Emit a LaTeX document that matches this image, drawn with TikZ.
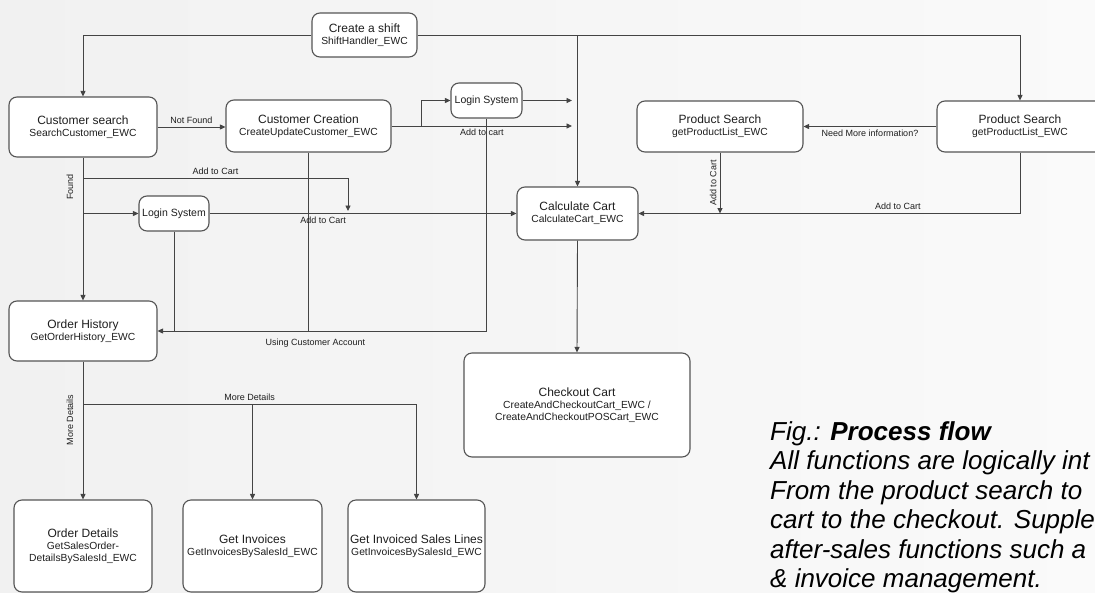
\documentclass[tikz,border=0pt]{standalone}
\usepackage{fontspec}
\setmainfont{Liberation Sans}
\usetikzlibrary{arrows.meta}

\definecolor{linegray}{HTML}{444444}
\definecolor{boxgray}{HTML}{555555}
\definecolor{txt}{HTML}{1E1E1E}

\newcommand{\titlef}{\fontsize{12}{14}\selectfont}
\newcommand{\subf}{\fontsize{10.3}{13}\selectfont}
\newcommand{\fname}[2]{{\titlef #1}\\{\subf #2}}

\tikzset{
  fbox/.style={draw=boxgray, line width=1.1pt, rounded corners=8pt, fill=white,
    align=center, text=txt, inner sep=0pt},
  lbl/.style={font=\fontsize{9}{10}\selectfont, text=txt, inner sep=3pt},
  flow/.style={draw=linegray, line width=0.9pt},
  >={Triangle[length=5.5pt,width=5pt]}
}

\begin{document}
\begin{tikzpicture}[x=1pt,y=-1pt]
% background
\useasboundingbox (0,0) rectangle (1095,592);
\clip (0,0) rectangle (1095,592);
\shade[left color=gray!11, right color=gray!4] (0,0) rectangle (1095,592);
% boxes
\node[fbox, minimum width=105, minimum height=44] (shift) at (364.5,35) {\fname{Create a shift}{ShiftHandler\_EWC}};
\node[fbox, minimum width=148, minimum height=60] (custsearch) at (83,127) {\fname{Customer search}{SearchCustomer\_EWC}};
\node[fbox, minimum width=165, minimum height=52] (custcreate) at (308.5,126) {\fname{Customer Creation}{CreateUpdateCustomer\_EWC}};
\node[fbox, minimum width=71, minimum height=35, font=\fontsize{10.5}{12}\selectfont] (login1) at (486.5,100.5) {Login System};
\node[fbox, minimum width=166, minimum height=51] (prodsearch1) at (720,126.5) {\fname{Product Search}{getProductList\_EWC}};
\node[fbox, minimum width=166, minimum height=51] (prodsearch2) at (1020,126.5) {\fname{Product Search}{getProductList\_EWC}};
\node[fbox, minimum width=121, minimum height=53] (calc) at (577.5,213.5) {\fname{Calculate Cart}{CalculateCart\_EWC}};
\node[fbox, minimum width=70, minimum height=35, font=\fontsize{10.5}{12}\selectfont] (login2) at (174,213.5) {Login System};
\node[fbox, minimum width=148, minimum height=60] (orderhist) at (83,331) {\fname{Order History}{GetOrderHistory\_EWC}};
\node[fbox, minimum width=226, minimum height=104] (checkout) at (577,405) {{\titlef Checkout Cart}\\{\subf CreateAndCheckoutCart\_EWC /}\\{\subf CreateAndCheckoutPOSCart\_EWC}};
\node[fbox, minimum width=138, minimum height=92] (orderdet) at (83,546) {{\titlef Order Details}\\{\subf GetSalesOrder-}\\{\subf DetailsBySalesId\_EWC}};
\node[fbox, minimum width=139, minimum height=92] (invoices) at (252.5,546) {\fname{Get Invoices}{GetInvoicesBySalesId\_EWC}};
\node[fbox, minimum width=137, minimum height=92] (invlines) at (416.5,546) {\fname{Get Invoiced Sales Lines}{GetInvoicesBySalesId\_EWC}};
% branch points
\coordinate (split1) at (421,126);
\coordinate (end1) at (572,100.5);
\coordinate (end2) at (572,126);
\coordinate (found1) at (83,178);
\coordinate (found2) at (83,213.5);
\coordinate (end3) at (348,211);
\coordinate (det) at (83,404);
% connectors
\draw[flow,->] (shift.west) -| (custsearch.north);
\draw[flow,->] (shift.east) -| (prodsearch2.north);
\draw[flow,->] (shift.east -| calc.north) -- (calc.north);
\draw[flow,->] (custsearch.east) -- node[lbl,above] {Not Found} (custsearch.east -| custcreate.west);
\draw[flow,->] (custcreate.east) -- node[lbl,below] {Add to cart} (end2);
\draw[flow,->] (split1) |- (login1.west);
\draw[flow,->] (login1.east) -- (end1);
\draw[flow,->] (login1.south) |- node[lbl,below=5pt,pos=0.76] {Using Customer Account} (orderhist.east);
\draw[flow] (custcreate.south) -- (custcreate.south |- orderhist.east);
\draw[flow] (login2.south) -- (login2.south |- orderhist.east);
\draw[flow,->] (custsearch.south) -- (orderhist.north);
\node[lbl,rotate=90] (foundlbl) at (70,187) {Found};
\draw[flow,->] (found1) -| node[lbl,above,pos=0.25] {Add to Cart} (end3);
\draw[flow,->] (found2) -- (login2.west);
\draw[flow,->] (login2.east) -- node[lbl,below,pos=0.37] {Add to Cart} (calc.west);
\draw[flow,->] (prodsearch2.west) -- node[lbl,below] {Need More information?} (prodsearch1.east);
\draw[flow,->] (prodsearch1.south) -- node[lbl,rotate=90,above] {Add to Cart} (prodsearch1.south |- calc.east);
\draw[flow,->] (prodsearch2.south) |- node[lbl,above,pos=0.66] {Add to Cart} (calc.east);
\draw[flow,->] (calc.south) -- (checkout.north);
\draw[flow,->] (orderhist.south) -- (orderdet.north);
\node[lbl,rotate=90] (morelbl) at (70,420) {More Details};
\draw[flow,->] (det) -| node[lbl,above,pos=0.25] {More Details} (invlines.north);
\draw[flow,->] (det -| invoices.north) -- (invoices.north);
% caption
\node[anchor=north west, align=left, inner sep=0pt, text=black,
  font=\fontsize{26}{29.5}\selectfont\itshape] (caption) at (770,421)
  {Fig.: \textbf{Process flow}\\All functions are logically int\\From the product search to\\cart to the checkout. Supple\\after-sales functions such a\\\& invoice management.};
\end{tikzpicture}
\end{document}
